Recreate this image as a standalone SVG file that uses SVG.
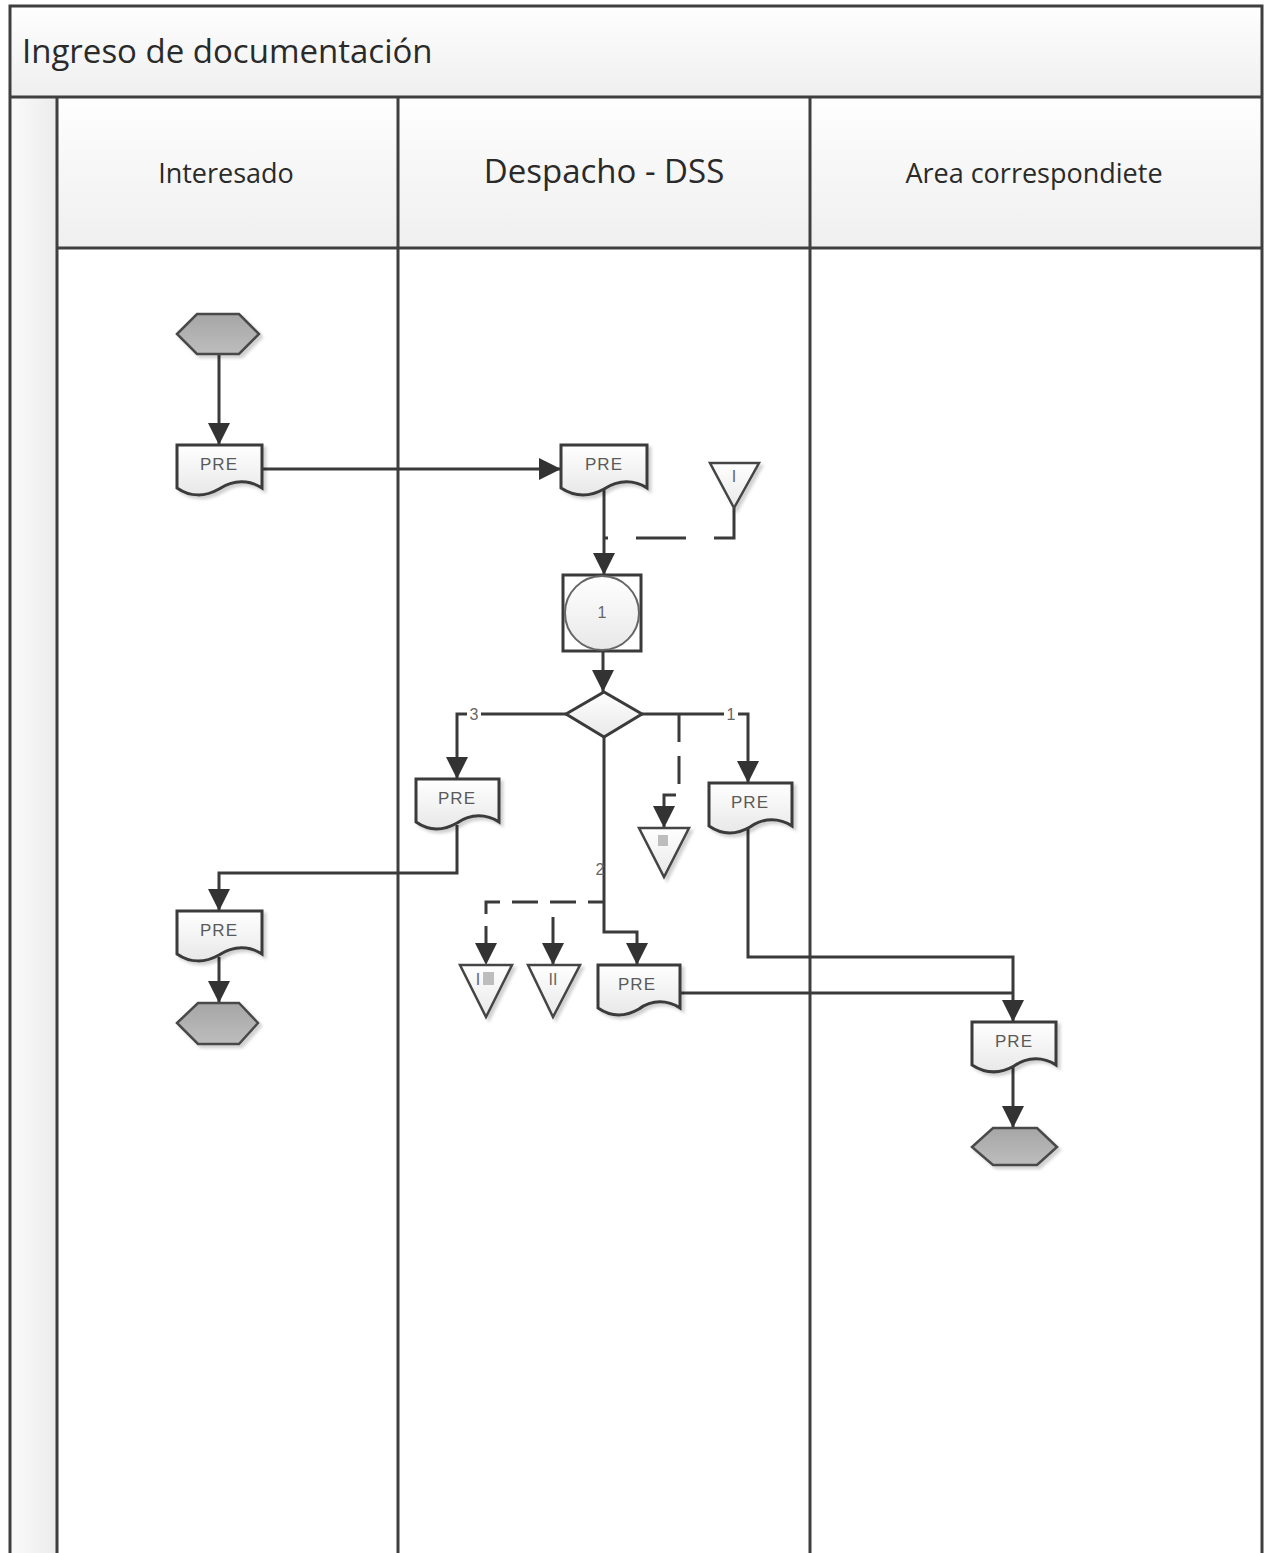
<svg xmlns="http://www.w3.org/2000/svg" width="1267" height="1553" viewBox="0 0 1267 1553">
<style>
.frame{fill:none;stroke:#3f3f3f;stroke-width:3}
.lane{stroke:#3f3f3f;stroke-width:3}
.hdr{font-family:"Open Sans","Liberation Sans",sans-serif;fill:#2a2a2a}
.doc{fill:url(#gDoc);stroke:#3a3a3a;stroke-width:3;filter:url(#sh)}
.hex{fill:url(#gHex);stroke:#4a4a4a;stroke-width:2.5;filter:url(#sh)}
.tri{fill:url(#gDoc);stroke:#444;stroke-width:2.5;filter:url(#sh)}
.lbl{font-family:"Liberation Sans",sans-serif;font-size:17px;fill:#5a5a5a;text-anchor:middle;letter-spacing:1px}
.sm{font-family:"Liberation Sans",sans-serif;font-size:16px;fill:#666;text-anchor:middle}
.c{fill:none;stroke:#3a3a3a;stroke-width:3}
.arr{marker-end:url(#ah)}
.d1{stroke-dasharray:50 28}
.d2{stroke-dasharray:28 14}
.d3{stroke-dasharray:26 12;stroke-dashoffset:10}
</style>
<defs>
<linearGradient id="gBand" x1="0" y1="0" x2="0" y2="1"><stop offset="0" stop-color="#fefefe"/><stop offset="1" stop-color="#efefef"/></linearGradient>
<linearGradient id="gPool" x1="0" y1="0" x2="1" y2="0"><stop offset="0" stop-color="#fafafa"/><stop offset="1" stop-color="#ececec"/></linearGradient>
<linearGradient id="gDoc" x1="0" y1="0" x2="0" y2="1"><stop offset="0" stop-color="#ffffff"/><stop offset="1" stop-color="#e8e8e8"/></linearGradient>
<linearGradient id="gHex" x1="0" y1="0" x2="0" y2="1"><stop offset="0" stop-color="#a6a6a6"/><stop offset="1" stop-color="#bdbdbd"/></linearGradient>
<filter id="sh" x="-20%" y="-20%" width="150%" height="150%"><feDropShadow dx="3" dy="3" stdDeviation="1.5" flood-color="#000" flood-opacity="0.18"/></filter>
<marker id="ah" markerUnits="userSpaceOnUse" markerWidth="22" markerHeight="22" viewBox="0 0 20 20" refX="20" refY="10" orient="auto"><path d="M0,0 L20,10 L0,20 z" fill="#333"/></marker>
</defs>
<rect x="0" y="0" width="1267" height="1553" fill="#fff"/>
<g id="pool">
<rect x="10" y="6" width="1252" height="91" fill="url(#gBand)"/>
<rect x="10" y="97" width="47" height="1460" fill="url(#gPool)"/>
<rect x="57" y="97" width="1205" height="151" fill="url(#gBand)"/>
<path class="frame" d="M10,1560 V6 H1262 V1560"/>
<line class="lane" x1="10" y1="97" x2="1262" y2="97"/>
<line class="lane" x1="57" y1="248" x2="1262" y2="248"/>
<line class="lane" x1="57" y1="97" x2="57" y2="1560"/>
<line class="lane" x1="398" y1="97" x2="398" y2="1560"/>
<line class="lane" x1="810" y1="97" x2="810" y2="1560"/>
<text class="hdr" x="22" y="63" font-size="33">Ingreso de documentación</text>
<text class="hdr" x="226" y="183" font-size="27" text-anchor="middle">Interesado</text>
<text class="hdr" x="604" y="183" font-size="33" text-anchor="middle">Despacho - DSS</text>
<text class="hdr" x="1034" y="183" font-size="27" text-anchor="middle">Area correspondiete</text>
</g>
<g id="connectors">
<path class="c arr" d="M219,354 V445"/>
<path class="c arr" d="M262,469 H561"/>
<path class="c arr" d="M604,489 V575"/>
<path class="c d1" d="M734,508 V538 H605"/>
<path class="c arr" d="M603,651 V692"/>
<path class="c arr" d="M566,714 H457 V779"/>
<path class="c arr" d="M642,714 H748 V783"/>
<path class="c d2 arr" d="M679,714 V795 H664 V828"/>
<path class="c arr" d="M604,737 V932 H637 V965"/>
<path class="c d3 arr" d="M604,902 H486 V965"/>
<path class="c arr" d="M553,917 V965"/>
<path class="c arr" d="M457,825 V873 H219 V911"/>
<path class="c arr" d="M219,957 V1003"/>
<path class="c arr" d="M748,829 V957 H1013 V1022"/>
<path class="c" d="M680,993 H1013"/>
<path class="c arr" d="M1013,1067 V1128"/>
<rect x="467" y="704" width="14" height="20" fill="#fff"/>
<text class="sm" x="474" y="720">3</text>
<rect x="724" y="704" width="14" height="20" fill="#fff"/>
<text class="sm" x="731" y="720">1</text>
<text class="sm" x="600" y="875">2</text>
</g>
<g id="start"><polygon class="hex" points="177,334 197,314 239,314 259,334 239,354 197,354"/></g>
<g id="doc1"><path class="doc" d="M177,445 H262 V488 C250,480 234,479 219,489 C205,497 190,497 177,488 Z"/><text class="lbl" x="219" y="470">PRE</text></g>
<g id="doc2"><path class="doc" d="M561,445 H647 V488 C635,480 619,479 604,489 C590,497 575,497 561,488 Z"/><text class="lbl" x="604" y="470">PRE</text></g>
<g id="triI"><polygon class="tri" points="710,463 759,463 734,508"/><text class="sm" x="734" y="482">I</text></g>
<g id="sub1"><rect x="563" y="575" width="78" height="76" fill="#fff" stroke="#3a3a3a" stroke-width="3"/><circle cx="602" cy="613" r="37" fill="url(#gDoc)" stroke="#666" stroke-width="2"/><text class="sm" x="602" y="618" font-size="13">1</text></g>
<g id="decision"><polygon points="566,714 604,692 642,714 604,737" fill="url(#gDoc)" stroke="#3a3a3a" stroke-width="3"/></g>
<g id="doc3"><path class="doc" d="M416,779 H499 V822 C487,814 471,813 457,823 C443,831 429,831 416,822 Z"/><text class="lbl" x="457" y="804">PRE</text></g>
<g id="doc5"><path class="doc" d="M709,783 H792 V826 C780,818 764,817 750,827 C736,835 722,835 709,826 Z"/><text class="lbl" x="750" y="808">PRE</text></g>
<g id="triIII"><polygon class="tri" points="639,828 689,828 664,877"/><rect x="658" y="835" width="10" height="11" fill="#bdbdbd"/></g>
<g id="doc4"><path class="doc" d="M177,911 H262 V954 C250,946 234,945 219,955 C205,963 190,963 177,954 Z"/><text class="lbl" x="219" y="936">PRE</text></g>
<g id="end1"><polygon class="hex" points="177,1023 198,1003 239,1003 258,1023 239,1044 198,1044"/></g>
<g id="triI3"><polygon class="tri" points="460,965 512,965 486,1017"/><text class="sm" x="478" y="985">I</text><rect x="483" y="972" width="11" height="13" fill="#bdbdbd"/></g>
<g id="triII"><polygon class="tri" points="528,965 580,965 553,1017"/><text class="sm" x="553" y="985">II</text></g>
<g id="doc6"><path class="doc" d="M598,965 H680 V1008 C668,1000 652,999 639,1009 C625,1017 611,1017 598,1008 Z"/><text class="lbl" x="637" y="990">PRE</text></g>
<g id="doc7"><path class="doc" d="M972,1022 H1056 V1065 C1044,1057 1028,1056 1014,1066 C1000,1074 986,1074 972,1065 Z"/><text class="lbl" x="1014" y="1047">PRE</text></g>
<g id="end2"><polygon class="hex" points="972,1147 993,1128 1037,1128 1057,1147 1037,1165 993,1165"/></g>
</svg>
